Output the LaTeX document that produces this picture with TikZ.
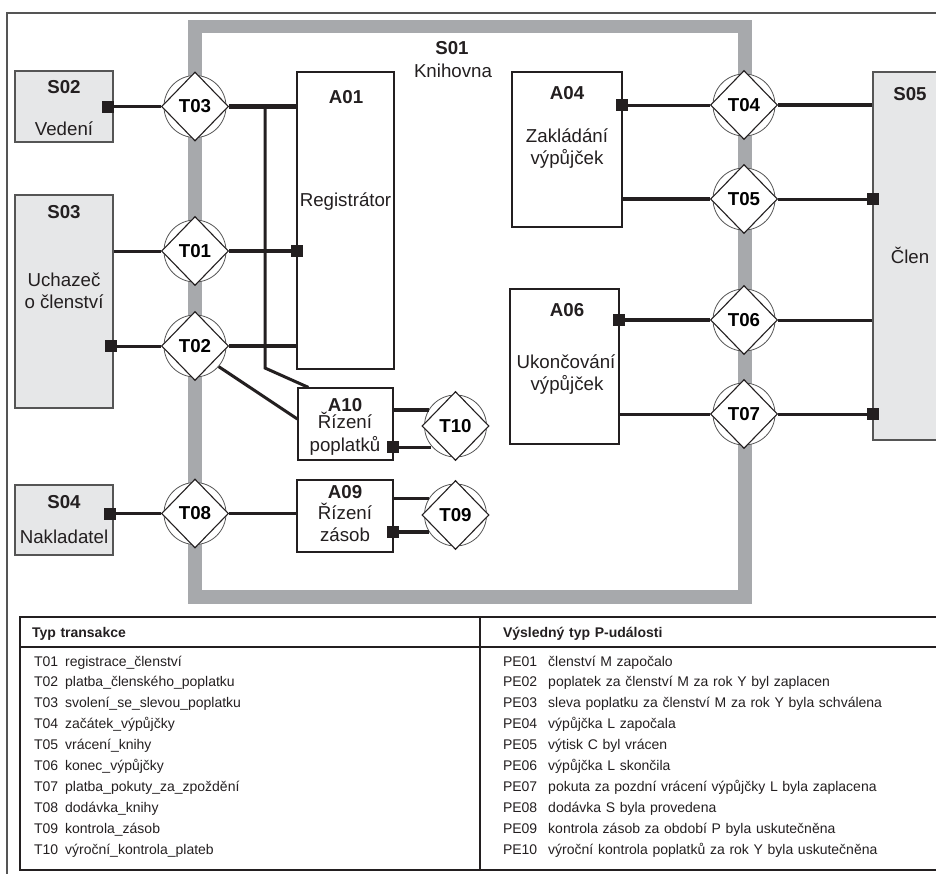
\documentclass[tikz,border=0pt]{standalone}
\usepackage{fontspec}
\setmainfont{Liberation Sans}
\usetikzlibrary{positioning, shapes.geometric}

\definecolor{framegray}{HTML}{A7A9AC}
\definecolor{boxgray}{HTML}{E6E7E8}
\definecolor{edgegray}{HTML}{555555}
\definecolor{inkblack}{HTML}{231F20}

\newcommand{\bigtext}{\fontsize{18.7}{22}\selectfont}
\newcommand{\tabtext}{\fontsize{14}{17}\selectfont}

\tikzset{
  actor/.style = {draw=edgegray, fill=boxgray, line width=1.3pt, rectangle, inner sep=0pt},
  unit/.style  = {draw=inkblack, fill=white, line width=1.2pt, rectangle, inner sep=0pt},
  txt/.style   = {anchor=base, inner sep=0pt, font=\bigtext, text=inkblack},
  ttl/.style   = {txt, font=\bigtext\bfseries},
  ring/.style  = {draw=edgegray, fill=white, circle, line width=0.8pt, minimum size=62pt, inner sep=0pt},
  trans/.style = {draw=inkblack, fill=white, diamond, line width=1.1pt, minimum width=67pt, minimum height=69pt, inner sep=0pt, font=\bigtext\bfseries},
  port/.style  = {fill=inkblack, rectangle, minimum size=12pt, inner sep=0pt},
  conn/.style  = {draw=inkblack, line width=3pt},
  heavy/.style = {draw=inkblack, line width=4.5pt},
  row/.style   = {inner sep=0pt, text width=420pt, align=left, text height=10pt, text depth=3pt, font=\tabtext, text=inkblack},
  head/.style  = {row, font=\tabtext\bfseries},
}

\begin{document}
\begin{tikzpicture}[x=1pt, y=-1pt, node distance=20.9pt]

\useasboundingbox (0,0) rectangle (936,873);
\clip (0,0) rectangle (936,873);

% frames
\draw [draw=edgegray , line width=1.3pt ] (7,13) rectangle (960,900);
\draw [draw=framegray, line width=13.5pt] (195,26.5) rectangle (745,597);

\node [ttl] (s01)  at (452,54) {S01};
\node [txt] (s01n) at (453,77) {Knihovna};

% actors and units
\node [actor, minimum width=98pt , minimum height=71pt ] (s02) at (64,106.5)    {};
\node [actor, minimum width=98pt , minimum height=213pt] (s03) at (64,301.5)    {};
\node [actor, minimum width=98pt , minimum height=70pt ] (s04) at (64,520)      {};
\node [actor, minimum width=90pt , minimum height=368pt] (s05) at (918,256)     {};
\node [unit , minimum width=97pt , minimum height=297pt] (a01) at (345.5,220.5) {};
\node [unit , minimum width=95pt , minimum height=72pt ] (a10) at (345.5,424)   {};
\node [unit , minimum width=96pt , minimum height=72pt ] (a09) at (345,516)     {};
\node [unit , minimum width=110pt, minimum height=155pt] (a04) at (567,149.5)   {};
\node [unit , minimum width=109pt, minimum height=155pt] (a06) at (564.5,366.5) {};

\node [ttl] (s02t) at (64,93)    {S02};
\node [txt] (s02n) at (64,135)   {Vedení};
\node [ttl] (s03t) at (64,218)   {S03};
\node [txt] (s03n) at (64,286)   {Uchazeč};
\node [txt] (s03m) at (64,308)   {o členství};
\node [ttl] (s04t) at (64,508)   {S04};
\node [txt] (s04n) at (64,543)   {Nakladatel};
\node [ttl] (s05t) at (910,100)  {S05};
\node [txt] (s05n) at (910,263)  {Člen};
\node [ttl] (a01t) at (346,103)  {A01};
\node [txt] (a01n) at (345.5,206){Registrátor};
\node [ttl] (a10t) at (345,411)  {A10};
\node [txt] (a10n) at (345,428)  {Řízení};
\node [txt] (a10m) at (345,451)  {poplatků};
\node [ttl] (a09t) at (345,498)  {A09};
\node [txt] (a09n) at (345,519)  {Řízení};
\node [txt] (a09m) at (345,541)  {zásob};
\node [ttl] (a04t) at (567,99)   {A04};
\node [txt] (a04n) at (567,142)  {Zakládání};
\node [txt] (a04m) at (567,164)  {výpůjček};
\node [ttl] (a06t) at (567,316)  {A06};
\node [txt] (a06n) at (566,368)  {Ukončování};
\node [txt] (a06m) at (567,390)  {výpůjček};

% transactions
\node [ring] (c03) at (195,106.5) {};  \node [trans] (t03) at (c03) {T03};
\node [ring] (c01) at (195,251)   {};  \node [trans] (t01) at (c01) {T01};
\node [ring] (c02) at (195,346)   {};  \node [trans] (t02) at (c02) {T02};
\node [ring] (c08) at (195,513.5) {};  \node [trans] (t08) at (c08) {T08};
\node [ring] (c10) at (455.5,426) {};  \node [trans] (t10) at (c10) {T10};
\node [ring] (c09) at (455.5,515) {};  \node [trans] (t09) at (c09) {T09};
\node [ring] (c04) at (744,105)   {};  \node [trans] (t04) at (c04) {T04};
\node [ring] (c05) at (744,199)   {};  \node [trans] (t05) at (c05) {T05};
\node [ring] (c06) at (744,320)   {};  \node [trans] (t06) at (c06) {T06};
\node [ring] (c07) at (744,414)   {};  \node [trans] (t07) at (c07) {T07};

\coordinate (k1) at (265,368);

% connectors
\draw [conn ] (t03.east -| k1) -- (k1) -- ([xshift=11pt]a10.north west);
\path [heavy] (t03.east) edge (t03.east -| a01.west);
\path [conn ] (t01.west) edge (t01.west -| s03.east);
\path [heavy] (t01.east) edge (t01.east -| a01.west);
\path [heavy] (t02.east) edge (t02.east -| a01.west);
\path [conn ] (c02.-41)  edge ([yshift=5pt]a10.west);
\path [conn ] (t08.east) edge (t08.east -| a09.west);

\path [heavy] (c10.149)  edge (c10.149 -| a10.east);
\path [conn ] (c09.149)  edge (c09.149 -| a09.east);

\path [heavy] (t04.east) edge (t04.east -| s05.west);
\path [heavy] (t05.west) edge (t05.west -| a04.east);
\path [conn ] (t06.east) edge (t06.east -| s05.west);
\path [conn ] (t07.west) edge (t07.west -| a06.east);

% ports
\node [port] (s02p)  at (108,106.5) {};
\node [port] (s03p)  at (111,346)   {};
\node [port] (s04p)  at (110,513.5) {};
\node [port] (a01p)  at (297,251)   {};
\node [port] (a10p)  at (393,447)   {};
\node [port] (a09p)  at (393,532)   {};
\node [port] (a04p)  at (622,105)   {};
\node [port] (a06p)  at (619,320)   {};
\node [port] (s05p1) at (873,199)   {};
\node [port] (s05p2) at (873,414)   {};

\path [conn ] (s02p) edge (t03.west);
\path [conn ] (s03p) edge (t02.west);
\path [conn ] (s04p) edge (t08.west);
\path [conn ] (a10p) edge (a10p -| c10.220);
\path [heavy] (a09p) edge (a09p -| c09.213);
\path [conn ] (a04p) edge (t04.west);
\path [heavy] (a06p) edge (t06.west);
\path [conn ] (t05.east) edge (s05p1);
\path [conn ] (t07.east) edge (s05p2);

% table
\node [draw=inkblack, line width=2pt, rectangle, inner sep=0pt, minimum width=940pt, minimum height=253pt] (tab) at (490,743.5) {};
\coordinate (colsep) at (480,647);
\draw [draw=inkblack, line width=1.2pt] (tab.west |- colsep) -- (tab.east |- colsep);
\draw [draw=inkblack, line width=1.2pt] (colsep |- tab.north) -- (colsep |- tab.south);

\node [head] (th1) at (242,633.5) {Typ transakce};
\node [row ] (r01) at (244,662.5) {T01\hspace{7pt}registrace\_členství};
\node [row, below of=r01] (r02) {T02\hspace{7pt}platba\_členského\_poplatku};
\node [row, below of=r02] (r03) {T03\hspace{7pt}svolení\_se\_slevou\_poplatku};
\node [row, below of=r03] (r04) {T04\hspace{7pt}začátek\_výpůjčky};
\node [row, below of=r04] (r05) {T05\hspace{7pt}vrácení\_knihy};
\node [row, below of=r05] (r06) {T06\hspace{7pt}konec\_výpůjčky};
\node [row, below of=r06] (r07) {T07\hspace{7pt}platba\_pokuty\_za\_zpoždění};
\node [row, below of=r07] (r08) {T08\hspace{7pt}dodávka\_knihy};
\node [row, below of=r08] (r09) {T09\hspace{7pt}kontrola\_zásob};
\node [row, below of=r09] (r10) {T10\hspace{7pt}výroční\_kontrola\_plateb};

\node [head] (th2) at (713,633.5) {Výsledný typ P-události};
\node [row ] (e01) at (713,662.5) {PE01\hspace{11pt}členství M započalo};
\node [row, below of=e01] (e02) {PE02\hspace{11pt}poplatek za členství M za rok Y byl zaplacen};
\node [row, below of=e02] (e03) {PE03\hspace{11pt}sleva poplatku za členství M za rok Y byla schválena};
\node [row, below of=e03] (e04) {PE04\hspace{11pt}výpůjčka L započala};
\node [row, below of=e04] (e05) {PE05\hspace{11pt}výtisk C byl vrácen};
\node [row, below of=e05] (e06) {PE06\hspace{11pt}výpůjčka L skončila};
\node [row, below of=e06] (e07) {PE07\hspace{11pt}pokuta za pozdní vrácení výpůjčky L byla zaplacena};
\node [row, below of=e07] (e08) {PE08\hspace{11pt}dodávka S byla provedena};
\node [row, below of=e08] (e09) {PE09\hspace{11pt}kontrola zásob za období P byla uskutečněna};
\node [row, below of=e09] (e10) {PE10\hspace{11pt}výroční kontrola poplatků za rok Y byla uskutečněna};

\end{tikzpicture}
\end{document}
